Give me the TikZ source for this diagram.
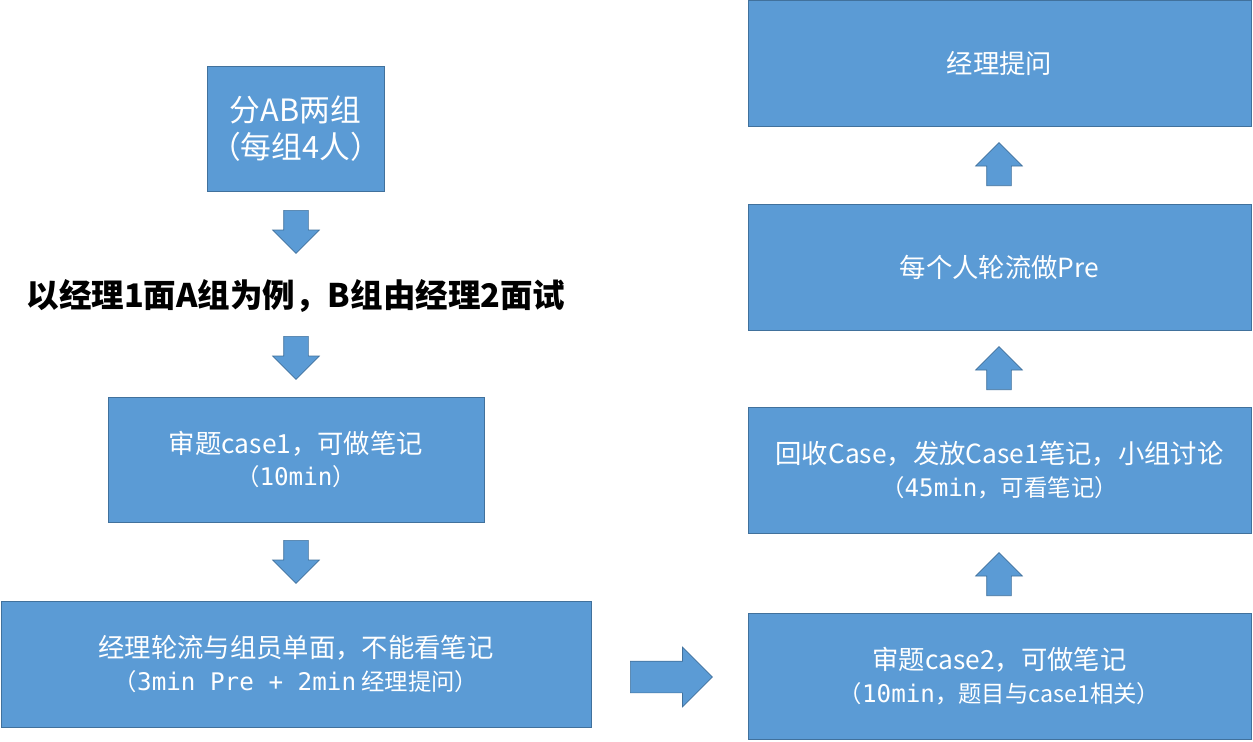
\documentclass[tikz,border=0pt]{standalone}
\usepackage{fontspec}
\setmainfont{Noto Sans CJK SC}
\newfontfamily\monolat{DejaVu Sans Mono}
\usetikzlibrary{shapes.arrows}
\definecolor{boxblue}{HTML}{5B9BD5}
\definecolor{boxline}{HTML}{41719C}
\newcommand{\subline}[1]{{\fontsize{13.3}{15}\selectfont #1}}
\newcommand{\ml}[1]{{\monolat\fontsize{13.8}{15}\selectfont #1}}

\begin{document}
\begin{tikzpicture}[x=0.02cm,y=-0.02cm]
  \tikzset{StepBox/.style = {draw = boxline, fill = boxblue, text = white, align = center,
                             inner sep = 0pt, font = \fontsize{15}{18.5}\selectfont},
           BlockArrow/.style = {single arrow, draw = boxline, fill = boxblue, inner xsep = 0pt,
                                inner ysep = 0.24cm, single arrow head extend = 0.22cm,
                                minimum height = 0.86cm, anchor = tail}}
  \useasboundingbox (0,0) rectangle (1253,741);
  % left column
  \node[StepBox, minimum width = 3.54cm, minimum height = 2.5cm,
        font = \fontsize{17.5}{21.5}\selectfont] (groups) at (295.5,128.5)
       {分AB两组\\（每组4人）};
  \node[BlockArrow, rotate = -90] (down1) at (296,210) {};
  \node[font = \fontsize{18.5}{22}\selectfont\bfseries] (lead) at (296,296)
       {以经理1面A组为例，B组由经理2面试};
  \node[BlockArrow, rotate = -90] (down2) at (296,336) {};
  \node[StepBox, minimum width = 7.52cm, minimum height = 2.5cm] (case1) at (296,459.5)
       {审题case1，可做笔记\\\subline{（\ml{10min}）}};
  \node[BlockArrow, rotate = -90] (down3) at (296,540) {};
  \node[StepBox, minimum width = 11.8cm, minimum height = 2.52cm] (single) at (296,664)
       {经理轮流与组员单面，不能看笔记\\\subline{（\ml{3min Pre + 2min} 经理提问）}};
  % across
  \node[BlockArrow, minimum height = 1.64cm, inner ysep = 0.31cm,
        single arrow head extend = 0.28cm] (across) at (630,677) {};
  % right column
  \node[StepBox, minimum width = 10.06cm, minimum height = 2.52cm] (case2) at (999.5,676)
       {审题case2，可做笔记\\\subline{（\ml{10min}，题目与case1相关）}};
  \node[BlockArrow, rotate = 90] (up1) at (999,596) {};
  \node[StepBox, minimum width = 10.06cm, minimum height = 2.52cm] (discuss) at (999.5,470)
       {回收Case，发放Case1笔记，小组讨论\\\subline{（\ml{45min}，可看笔记）}};
  \node[BlockArrow, rotate = 90] (up2) at (999,390) {};
  \node[StepBox, minimum width = 10.06cm, minimum height = 2.52cm] (pre) at (999.5,267)
       {每个人轮流做Pre};
  \node[BlockArrow, rotate = 90] (up3) at (999,186) {};
  \node[StepBox, minimum width = 10.06cm, minimum height = 2.52cm] (ask) at (999.5,63)
       {经理提问};
\end{tikzpicture}
\end{document}
